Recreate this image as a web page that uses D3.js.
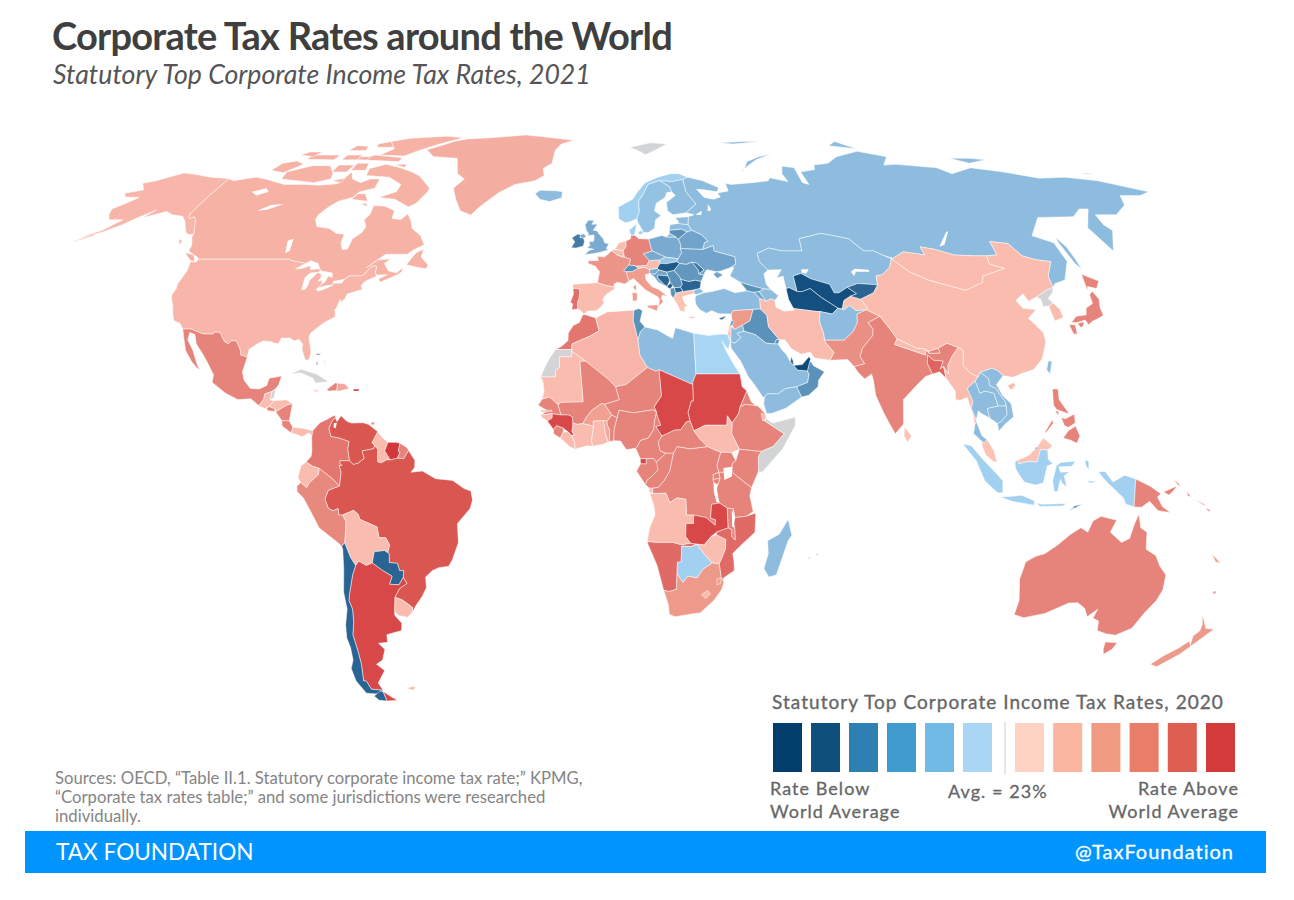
<!DOCTYPE html>
<html><head><meta charset="utf-8">
<script src="https://cdn.jsdelivr.net/npm/d3@7"></script>
<style>html,body{margin:0;background:#fff}svg{display:block}text{font-family:Lato,sans-serif}</style>
</head><body><svg id="c" width="1294" height="900"></svg>
<script>
// ---------- chart texts ----------
const titleText="Corporate Tax Rates around the World";
const subtitleText="Statutory Top Corporate Income Tax Rates, 2021";
const sourceLines=["Sources: OECD, “Table II.1. Statutory corporate income tax rate;” KPMG,","“Corporate tax rates table;” and some jurisdictions were researched","individually."];
const legendTitle="Statutory Top Corporate Income Tax Rates, 2020";
const legendBlues=["#023e6b","#0f4f7c","#2f80b2","#409bcf","#72bae6","#a8d6f3"];
const legendReds=["#ffd3c3","#fbb6a1","#f09a82","#e87d68","#dd5f4f","#d33a3a"];
// ---------- rate → colour, as seen on the map ----------
const rateStops=[0,8,10,15,19,20,22.5,24,26,28,30,32,34,35,37.5];
const rateColors=["#0c4a7a","#14507f","#2a6493","#5a92ba","#7aaad0","#8dbcde","#a7d5f4","#fcc3b5","#f6b5a8","#ee9a8b","#e6837a","#e06a65","#da5650","#d84848","#c81e28"];
const noData="#d2d4d5";
// ---------- [name, statutory rate, outline "lon lat,lon lat,..."] ----------
const northAmerica=[
["Greenland",26.5,"-73 78.2,-68 76,-58 75.5,-54.5 71,-51 69.5,-53.5 67,-51 64,-48 61,-44 59.9,-42 62,-37 65.7,-32 68,-25 69,-22 70.5,-23 72.5,-20 74,-20 78,-18 80,-13 81.5,-25 82.7,-35 83.6,-50 82.5,-60 82,-65 81,-67 80"],
["Canada",26.2,"-137.4 69.6,-135 69,-128 70,-124 69.5,-115 68,-108 68,-102 67.8,-96 68.2,-94.5 71.5,-92 69.5,-88 68.5,-85.5 69.5,-82 69.5,-81.5 67,-86 66,-87 64.5,-91 63.5,-93 62,-94.5 60,-94.5 58.8,-92.5 57,-88 56.5,-85 55.3,-82.3 55.1,-82 53,-80.5 51.3,-79 51.5,-79 54,-77 55.5,-76.7 57,-78.5 58.8,-77.5 60,-78 62.4,-74 62.2,-70 61,-69.5 59,-66.5 58.8,-65 60.2,-63 58.5,-61.5 56.5,-58 54.8,-55.8 52.5,-58.5 51.3,-60 50.2,-66.5 50.2,-69 48.5,-71 46.9,-68.5 48.8,-64.5 49.1,-66 48,-65 47,-64 46.2,-61.5 45.7,-60 47,-60 46,-61 45.3,-65.5 43.5,-66.2 44.3,-64 45.3,-67 45.2,-67.8 45.7,-68 47.3,-69.2 47.4,-70 46.7,-70.8 45.4,-71.5 45,-75 45,-76.3 44.2,-79.3 43.7,-79 42.9,-81 42.7,-83 42.1,-82.4 43,-81.7 43.5,-81.3 45,-80 44.6,-80.5 45.7,-84 46.2,-84.5 46.5,-85 47,-86 48,-88.5 48.6,-89.6 48,-92 48.3,-94.6 48.7,-95.2 49,-122.8 49,-123.5 49.5,-125 50,-127.5 51,-128 52.5,-130 54.5,-130 55,-131 56,-133.5 58.5,-135 59.5,-136 59,-137 59.5,-137.4 60.3,-137.4 65"],
["Baffin",26.2,"-62 66,-64 63,-66 62,-72 64,-78 64.5,-73 66,-73 68,-79 70,-88 70.5,-89 72.5,-84 73.7,-78 72.8,-72 71.5,-68 70.3,-62 67"],
["Victoria I.",26.2,"-118 69.5,-105 68.5,-100 69.5,-101 71,-105 73.3,-112 73.3,-119 71.5"],
["Banks I.",26.2,"-125.5 72,-120 71.3,-116 73.7,-120 74.7,-124.5 74"],
["Ellesmere",26.2,"-90 76.5,-80 76.2,-76 78,-70 80,-62 82.5,-70 83.1,-85 82.3,-92 81,-87 78.5"],
["Devon",26.2,"-96 75,-80 74.5,-80 75.7,-92 76.5"],
["Axel Heiberg",26.2,"-95 79,-88 79,-92 81,-96 80"],
["Melville",26.2,"-117 75.2,-106 75,-106 76.5,-117 76.5"],
["Prince of Wales",26.2,"-102 71.5,-96.5 71.5,-96 73.5,-102 73.5"],
["Somerset",26.2,"-95.5 72,-90 72,-91 74,-95.5 74"],
["Bathurst",26.2,"-103 75,-97 75,-97 76.5,-103 76.5"],
["Prince Patrick",26.2,"-122 76.5,-116 76,-115 77.5,-120 77.5"],
["Ellef Ringnes",26.2,"-105 78,-98 78,-99 79.3,-104 79.5"],
["Cornwallis",26.2,"-97 75,-93 75,-93 76,-97 76"],
["Bylot",26.2,"-81 73.7,-76 72.8,-76 73.7"],
["King William",26.2,"-99 69,-95 68.5,-95 69.7"],
["Coats",26.2,"-83 62.8,-80 62.2,-81 63"],
["Southampton",26.2,"-87 64,-81 63.5,-83.5 65.5,-86 65.5"],
["Vancouver",26.2,"-128.3 50.6,-125 48.7,-123.4 48.4,-125 50"],
["Haida",26.2,"-133 54,-131.8 53.2,-132 52.5,-133 53.5"],
["Newfoundland",26.2,"-59.3 47.7,-55.5 47,-53 46.7,-52.7 47.6,-55.5 49.5,-55.5 51.5,-57.5 50.5"],
["USA",25.8,"-124.7 48.4,-123 48.3,-122.8 49,-95.2 49,-94.6 48.7,-92 48.3,-89.6 48,-92 46.7,-90.5 46.7,-87.9 47.5,-87.5 46.5,-85 46.7,-84.4 46.5,-84.7 45.9,-87 45.7,-87.7 45,-88 44.6,-87.8 43,-87.6 41.8,-86.8 41.7,-86.3 42.5,-86.3 44,-85.5 45,-85 45.7,-84.7 45.8,-83.5 45.3,-83.3 44.5,-83.8 43.7,-82.6 44,-82.4 43,-83.1 42.2,-83.4 41.7,-82.5 41.4,-81 41.9,-79 42.8,-79 43.25,-76.6 43.3,-76.3 44.1,-75 45,-71.5 45,-70.8 45.4,-70 46.7,-69.2 47.4,-68 47.3,-67.8 45.7,-67 44.9,-68.5 44.3,-70 43.7,-70.7 42.7,-70 41.8,-71.4 41.4,-74 40.7,-74.1 39.7,-75 38.8,-75.5 39.4,-75.9 37.2,-76.3 37,-75.9 36.6,-75.5 35.3,-77 34.6,-78.5 33.8,-79.9 32.7,-81.3 31.5,-81.4 30.4,-80.5 28.3,-80 26.8,-80.3 25.3,-81.2 25.2,-81.8 26.2,-82.7 27.8,-82.7 28.9,-84 30.1,-85.3 29.7,-86.5 30.4,-89 30.4,-89.4 29.1,-90.5 29.2,-91.8 29.6,-93.8 29.7,-95 29.2,-97.2 27.7,-97.2 25.95,-99.1 26.4,-99.5 27.5,-100.7 29.1,-101.4 29.8,-102.7 29.7,-103.2 29,-104.5 29.6,-106.5 31.75,-108.2 31.75,-108.2 31.33,-111 31.33,-114.8 32.5,-117.1 32.5,-118.4 33.8,-120.5 34.5,-121.9 36.6,-122.5 37.8,-123.8 39.5,-124.4 40.4,-124.1 42,-124.5 43,-124 46.2"],
["Alaska",25.8,"-137.4 69.6,-137.4 65,-137.4 60.3,-137 59.5,-136 59,-135 59.5,-133.5 58.5,-131 56,-130 55,-131.5 55,-133 55.5,-135 57,-136.5 58.2,-139 59.6,-143 60,-146 60.8,-149 60,-151.8 59.2,-150 61.2,-153 59.5,-156 57.5,-160 55.5,-163 54.8,-165 54.5,-160.5 56,-157.5 58.7,-162 58.7,-164 60,-165.4 61.5,-163 63,-161 64.5,-166 64.6,-168 65.6,-163 66.5,-166.5 68.3,-163 69,-157 71.2,-152 70.8,-145 70"],
["Aleutians",25.8,"-162 55.2,-164 54.2,-166.5 53,-164 53.8,-161 54.9"],
["Mexico",30,"-117.1 32.5,-114.8 32.5,-111 31.33,-108.2 31.33,-108.2 31.75,-106.5 31.75,-104.5 29.6,-103.2 29,-102.7 29.7,-101.4 29.8,-100.7 29.1,-99.5 27.5,-99.1 26.4,-97.2 25.95,-97.8 22.5,-97 20.5,-95 18.6,-92.5 18.5,-90.7 19.3,-90.3 21,-87 21.5,-87.5 19.5,-88.2 18.5,-89.15 17.9,-91 17.3,-91 16.1,-92.2 14.6,-94.5 16.2,-98 16,-101.5 17.5,-105.5 20,-105.5 21.8,-108 25,-109.4 26.5,-112 29,-113.2 31.2,-114.8 31.7,-114.7 30,-112.5 27.5,-110.5 24.3,-109.5 23,-110.3 23.4,-112.2 25,-114.5 27.5,-115.7 30"],
["Guatemala",25,"-92.2 14.6,-91 16.1,-91 17.3,-89.15 17.9,-89.2 15.9,-88.2 15.7,-89.4 14.4,-90.5 13.9"],
["Belize",null,"-89.15 17.9,-88.2 18.5,-88.3 16.5,-89.2 15.9"],
["Honduras",25,"-89.4 14.4,-88.2 15.7,-85 15.95,-83.2 15,-84.7 14.7,-86 14,-87.5 13.1,-87.7 13.8"],
["El Salvador",30,"-90.1 13.8,-89.4 14.4,-87.7 13.8,-87.9 13.2,-89.5 13.4"],
["Nicaragua",30,"-87.5 13.1,-86 14,-84.7 14.7,-83.2 15,-83.7 11,-85.7 11.1"],
["Costa Rica",30,"-85.7 11.1,-83.7 11,-82.6 9.5,-83 8.2,-85.5 9.8"],
["Panama",25,"-83 8.2,-82.6 9.5,-80 9.3,-77.3 8.7,-77.3 7.5,-78.4 8.2,-80 7.3,-81.7 7.9"],
["Cuba",null,"-84.9 21.9,-82 23.1,-77.5 21.9,-74.2 20.2,-77.7 19.9,-78.5 21,-82 22.3"],
["Haiti",30,"-74.4 18.4,-72.3 19.9,-71.7 19.8,-71.7 18.1,-74 18"],
["Dominican Rep.",27,"-71.7 19.8,-69.8 19.7,-68.4 18.6,-71 18,-71.7 18.1"],
["Jamaica",25,"-78.3 18.4,-76.3 18.1,-77.2 17.8"],
["Puerto Rico",37.5,"-67.2 18.5,-65.6 18.4,-65.8 18,-67.2 18"],
["Bahamas",0,"-78.2 25.2,-77.7 24.4,-77.9 24"],
["Bahamas",0,"-78.9 26.7,-77.2 26.7,-77.9 26.4"],
["Bahamas",0,"-76.3 25.3,-75.6 24.3,-75.9 24.9"],
["Trinidad",30,"-61.9 10.7,-61 10.7,-61 10.1,-61.8 10.1"]];
const southAmerica=[
["Colombia",31,"-77.3 8.7,-75.5 10.6,-74 11.2,-71.7 12.4,-71.3 11.8,-72.2 11.1,-73 9.3,-72.4 7.4,-70.1 7,-67.5 6.2,-67.8 4.5,-67.3 1.7,-69.8 1.7,-69.8 1,-69.2 0.6,-70 0.6,-69.5 -1,-70 -4.2,-72 -2.4,-75.3 -0.1,-77 0.4,-78.8 1.4,-77.5 2.7,-77.3 4,-77.5 7"],
["Venezuela",34,"-71.7 12.4,-71.3 11.8,-72.2 11.1,-73 9.3,-72.4 7.4,-70.1 7,-67.5 6.2,-67.8 4.5,-67.3 1.7,-66.3 0.8,-65 1.1,-64 1.9,-63.4 2.2,-64 4,-61 4.5,-60.7 5.2,-61.4 5.9,-60 8.5,-62.5 10.2,-64 10.6,-67 10.5,-68.3 10.9,-70 12.2,-71 10.8"],
["Guyana",25,"-60 8.5,-58.5 6.9,-57.2 6,-58 4,-56.5 1.9,-57.5 1.9,-58.8 1.2,-59.8 1.4,-59.9 2.4,-59.9 4.4,-60.7 5.2,-61.4 5.9"],
["Suriname",36,"-57.2 6,-55 6,-54 5.8,-54.4 4,-54 3.6,-54.6 2.3,-56.5 1.9,-58 4"],
["French Guiana",30,"-54 5.8,-52 4.7,-51.7 4.1,-52.9 2.2,-54.6 2.3,-54 3.6,-54.4 4"],
["Brazil",34,"-51.7 4.1,-50 1.8,-50 0.2,-51 -1,-48 -0.7,-44.5 -2.5,-40 -2.9,-37 -4.8,-35.2 -5.4,-34.8 -7.5,-35.5 -9.5,-37.5 -11.5,-39 -13,-39 -17.5,-40.9 -21.5,-42 -23,-44.7 -23.3,-46.5 -24,-48.5 -25.5,-48.6 -28,-50 -30,-52.2 -32.2,-53.4 -33.7,-53.2 -32.6,-55.6 -30.9,-57.6 -30.2,-56 -28.2,-53.8 -27,-54.6 -25.6,-54.3 -24,-55.4 -24,-55.8 -22.3,-58 -22.1,-57.8 -20,-58.2 -19.8,-57.5 -18,-58.4 -16.3,-60.2 -16.3,-60.5 -13.8,-62.5 -13,-65 -12,-65.3 -10.9,-66.5 -9.9,-69.5 -11,-70.5 -11,-70.6 -9.5,-72 -10,-73.2 -9.4,-74 -7.3,-73 -5.2,-70 -4.2,-69.5 -1,-70 0.6,-69.2 0.6,-69.8 1,-69.8 1.7,-67.3 1.7,-66.3 0.8,-65 1.1,-64 1.9,-63.4 2.2,-64 4,-61 4.5,-60.7 5.2,-59.9 4.4,-59.9 2.4,-59.8 1.4,-58.8 1.2,-57.5 1.9,-56.5 1.9,-54.6 2.3,-52.9 2.2"],
["Ecuador",25,"-80.3 -3.4,-81 -2.2,-80.1 0.5,-78.8 1.4,-77 0.4,-75.3 -0.1,-75.5 -1.5,-78 -3.5,-78.7 -4.6"],
["Peru",29.5,"-80.3 -3.4,-78.7 -4.6,-78 -3.5,-75.5 -1.5,-75.3 -0.1,-72 -2.4,-70 -4.2,-73 -5.2,-74 -7.3,-73.2 -9.4,-72 -10,-70.6 -9.5,-70.5 -11,-69.5 -11,-68.7 -12.5,-69 -15,-69.4 -17,-69.5 -17.5,-70.4 -18.3,-71.4 -17.4,-76 -14,-78 -10,-79.7 -7,-81.3 -5.5,-81.3 -4.3"],
["Bolivia",25,"-69.5 -11,-66.5 -9.9,-65.3 -10.9,-65 -12,-62.5 -13,-60.5 -13.8,-60.2 -16.3,-58.4 -16.3,-57.5 -18,-58.2 -19.8,-59 -19.3,-61.8 -19.6,-62.6 -22.2,-64.3 -22.8,-66.2 -21.8,-67.2 -22.8,-68.3 -21,-69 -19,-69.5 -17.5,-69.4 -17,-69 -15,-68.7 -12.5"],
["Paraguay",10,"-58.2 -19.8,-57.8 -20,-58 -22.1,-55.8 -22.3,-55.4 -24,-54.3 -24,-54.6 -25.6,-56 -27.3,-58.6 -27.2,-57.6 -25.3,-60 -24,-62.6 -22.2,-61.8 -19.6,-59 -19.3"],
["Uruguay",25,"-58.4 -33.5,-57.6 -30.2,-55.6 -30.9,-53.2 -32.6,-53.4 -33.7,-55 -34.9,-57.5 -34.5"],
["Argentina",35,"-66.2 -21.8,-64.3 -22.8,-62.6 -22.2,-60 -24,-57.6 -25.3,-58.6 -27.2,-56 -27.3,-54.6 -25.6,-53.8 -27,-56 -28.2,-57.6 -30.2,-58.4 -33.5,-58.5 -34.5,-57 -36.3,-57.5 -38,-62 -39,-62.3 -40.8,-65 -41,-63.7 -42.5,-65.3 -45,-67.5 -46,-65.7 -47.5,-69 -50.5,-68.4 -52.3,-71.9 -52,-72.4 -50,-73.2 -50,-72 -46,-71.7 -43,-71.7 -39,-70.5 -36,-70 -33,-70.5 -31,-69.8 -29,-68.3 -25,-67.2 -22.8"],
["Chile",10,"-69.5 -17.5,-69 -19,-68.3 -21,-67.2 -22.8,-68.3 -25,-69.8 -29,-70.5 -31,-70 -33,-70.5 -36,-71.7 -39,-71.7 -43,-72 -46,-73.2 -50,-72.4 -50,-71.9 -52,-68.4 -52.3,-70.5 -53.2,-74 -53,-75.5 -50,-75.5 -47,-74 -45,-73.5 -42,-73.7 -39.8,-73 -36.7,-71.5 -33,-71.5 -29,-70.5 -23.5,-70.2 -19,-70.4 -18.3"],
["Chile",10,"-68.6 -52.6,-69.5 -52.5,-72 -53.7,-71 -54.7,-68.6 -54.9"],
["Argentina",35,"-68.6 -52.6,-68.6 -54.9,-65.2 -54.7,-66.5 -54"],
["Falklands",26,"-61 -51.8,-59 -51.4,-58 -51.5,-59 -52.2"]];
const europe=[
["UK",19,"-5.7 50.1,-3.5 50.3,-1 50.7,1.4 51.2,0.8 51.7,1.7 52.7,0.3 53,-0.1 54,-1.5 55.2,-2 55.9,-3.3 56.1,-2 57.6,-3.8 57.6,-3.1 58.6,-5 58.6,-6 57.5,-5.5 56,-4.8 55.3,-5 54.8,-3 54.9,-3 53.9,-3.2 53.3,-4.6 53.3,-4.2 52.3,-5.2 51.8,-3 51.4,-4.5 51.1"],
["N. Ireland",19,"-6.2 55.2,-5.5 54.5,-6.3 54.1,-7.5 54.3,-7.3 55"],
["Ireland",12.5,"-6.3 54.1,-6 53.3,-6.3 52.2,-8.5 51.7,-10 51.8,-9 53.2,-10 54.2,-8.3 55.1,-7.3 55,-7.5 54.3"],
["Iceland",20,"-24 65.5,-22 64,-18.5 63.4,-14.5 64.4,-14.5 66,-17 66.3,-22.5 66.4"],
["Svalbard",null,"11 79,20 80.5,27 80,21 78,17 76.6,14 78"],
["France",28.4,"2.5 51.1,4.2 50,5.8 49.5,6.4 49.5,8.2 49,7.6 47.6,6 46.3,6.8 46,7 45,7.5 43.8,6.2 43.1,4 43.5,3 43,3.2 42.4,0.7 42.7,-1.8 43.4,-1.2 46,-2.5 47.3,-4.7 48,-4.7 48.6,-1.6 48.7,-1.9 49.7,0.2 49.5,1.6 50.4"],
["Corsica",28.4,"8.6 42.4,9.4 43,9.5 42,9.2 41.4"],
["Spain",25,"-9 43,-1.8 43.4,0.7 42.7,3.2 42.4,3.2 41.9,0.7 40.6,-0.3 39.4,0.2 38.7,-0.7 37.7,-2 36.8,-4.5 36.7,-5.6 36,-6.4 36.8,-7.4 37.2,-7.4 39,-7 39.7,-6.9 41.9,-8.2 42,-8.9 42"],
["Portugal",31.5,"-8.9 42,-8.2 42,-6.9 41.9,-7 39.7,-7.4 39,-7.4 37.2,-9 37,-8.8 38.4,-9.5 38.7,-8.7 40.7"],
["Belgium",25,"2.5 51.1,3.4 51.4,5.9 51.1,6.2 50.5,5.8 49.5,4.2 50"],
["Netherlands",25,"3.4 51.4,4 52,4.8 53,7 53.4,7 52.2,6 51,5.9 51.1"],
["Luxembourg",24.9,"5.8 49.5,6.2 50.1,6.4 49.5"],
["Germany",29.9,"7 53.4,8.5 54,8.7 54.9,10 54.8,11 54,14.2 53.9,14.7 51.6,15 51,12.2 50.3,13.8 48.7,13 47.5,10 47.3,7.6 47.6,8.2 49,6.4 49.5,6.2 50.1,6.2 50.5,6 51,7 52.2"],
["Denmark",22,"8.7 54.9,8.1 56,10.6 57.7,10.3 56.3,9.8 55,10 54.8"],
["Denmark",22,"11 55.7,12.5 56,12.5 55.2,11.2 55"],
["Switzerland",14.9,"6 46.3,7.6 47.6,9.6 47.4,10.4 46.8,8.5 46,6.8 46"],
["Austria",25,"9.6 47.4,10 47.3,13 47.5,13.8 48.7,17 48.8,17 48,16 46.8,13.7 46.5,12.2 47,10.4 46.8"],
["Italy",27.8,"6.8 46,8.5 46,10.4 46.8,12.2 47,13.7 46.5,13.7 45.6,12.3 45.3,12.5 44,14 42.5,16 41.8,18.5 40.1,17 40.5,16.5 39.7,17.1 39,16 38,15.7 38,16 39.5,15.5 40.1,14 40.8,12 41.8,10.5 43,8.8 44.4,7.5 43.8,7 45"],
["Sicily",27.8,"12.4 38,15.6 38.2,15.1 36.7,12.5 37.6"],
["Sardinia",27.8,"8.2 41,9.7 41,9.6 39.2,8.4 39"],
["Poland",19,"14.2 53.9,18.5 54.8,19.8 54.4,22.8 54.4,23.5 53.9,24 52.5,23.7 51.5,24 50.6,22.6 49.1,18.8 49.5,15 51,14.7 51.6"],
["Czechia",19,"12.2 50.3,15 51,18.8 49.5,17 48.8,13.8 48.7"],
["Slovakia",21,"17 48.8,18.8 49.5,22.6 49.1,22.1 48.4,18.8 47.9,17 48"],
["Hungary",9,"16 46.8,17 48,18.8 47.9,22.1 48.4,22.9 48,21 46.3,18.8 45.9,16.5 46.4"],
["Slovenia",19,"13.7 46.5,16 46.8,16.5 46.4,15.2 45.4,13.7 45.5"],
["Croatia",18,"13.7 45.5,15.2 45.4,16.5 46.4,18.8 45.9,19 45,16 45.2,16 44.5,17.6 43,18.5 42.4,16 43.5,14.9 44.8"],
["Bosnia",10,"16 45.2,19 45,19.5 44,18.5 42.5,17.6 43,16 44.5"],
["Serbia",15,"18.8 45.9,21 46.3,22.5 44.7,22.7 44.2,23 43,22.4 42.3,20.5 42.2,20.2 42.7,19.5 43.3,19.5 44,19 45"],
["Montenegro",9,"18.5 42.5,19.5 43.3,20.2 42.7,19.3 41.9,18.5 42.4"],
["Albania",15,"19.3 42,20.5 42.2,20.9 40.9,20 39.7,19.4 40.5"],
["N. Macedonia",10,"20.5 42.2,22.4 42.3,23 41.3,20.9 40.9"],
["Greece",24,"20 39.7,20.9 40.9,23 41.3,26.3 41.7,26 40.8,23.5 40.3,22.6 40,23.2 38.5,24 38,23 37.6,23 36.5,21.7 36.8,21 38.3"],
["Crete",24,"23.5 35.5,26.3 35.3,24.8 34.9"],
["Bulgaria",10,"22.7 44.2,25 43.7,27 44,28.6 43.7,28 42,26.3 41.7,23 41.3,22.4 42.3,23 43"],
["Romania",16,"21 46.3,22.9 48,24.9 47.8,26.6 48.3,28.2 46.5,28.2 45.5,29.7 45.2,28.6 43.7,27 44,25 43.7,22.7 44.2,22.5 44.7"],
["Moldova",12,"26.6 48.3,28 48.1,30 46.4,28.2 45.5,28.2 46.5"],
["Ukraine",18,"22.1 48.4,22.6 49.1,24 50.6,23.7 51.5,24 51.6,30.6 51.4,34 52.3,34 51,40 49.6,39.7 47.8,38 47,35 46.2,33.6 46,35.4 45.3,33.5 44.4,32.5 45.4,33.6 46,30.8 46.5,30 45.8,29.7 45.2,28.2 45.5,30 46.4,28 48.1,26.6 48.3,24.9 47.8,22.9 48"],
["Belarus",18,"23.7 51.5,24 52.5,23.5 53.9,26.6 55.7,28.2 56.1,31 55,32.7 53.4,31.5 53,30.6 51.4,24 51.6"],
["Lithuania",15,"21 55.3,21 56.1,25 56.4,26.6 55.7,23.5 53.9,22.8 54.4"],
["Latvia",20,"21 56.1,21.6 57.5,24.3 57.8,27.4 57.5,28.2 56.1,26.6 55.7,25 56.4"],
["Estonia",20,"23.5 59.2,28 59.5,27.4 57.5,24.3 57.8,24.4 58.4"],
["Norway",22,"5 58.9,7 58,8.5 58.2,11 59,12 61,12 63.5,14 65.5,16 68,20 69,25 68.8,29 69.4,31 70,28 71,25 71,20 70,15 68.5,12 66,10 64,5 62,5 60"],
["Sweden",20.6,"11 59,11.2 58,12.8 55.5,14.2 55.5,16.4 56.6,17 58.7,19 59.8,17 61,18 63,21.3 64.5,22.2 65.8,24 66,23.5 67.5,20.5 69,20 69,16 68,14 65.5,12 63.5,12 61"],
["Finland",20,"24 66,23.5 67.5,20.5 69,25 68.8,29 69.4,29 66,31.5 62.8,27.5 60.5,23 60,21.4 61,21.5 63.2,25 65"]];
const asia=[
["Russia",20,"28 59.5,30 60,27.5 60.5,31.5 62.8,29 66,29 69.4,31 70,36 69,41 67.2,40 66,35 66.6,33 66.7,34.8 64.5,38 64,40.5 64.6,40 65.7,44 66.2,44 68.3,46 68,54 68.5,60 69,61 69.8,67 68.8,66.5 71,68.5 73.2,72.7 72.7,72 68.5,74 68,74 71.5,80 72.2,81 73.5,87 74,93 76,104 77.7,113 76,108 73.5,113 73.7,127 72.7,130 71,140 72.7,150 71.5,160 69.7,170 70,180 69,192 66,187 65,180 65,177 62.5,170 60,163 60,162 57.5,162.8 56,156.7 51,155.8 56.7,163 61.5,160 61.5,155 59.5,143 59.3,135.5 54.7,140.5 53,140 48.5,135.5 44,132 43.2,130.7 42.3,131.3 45,135 48.4,130.7 48.9,127.5 49.8,126 52.8,120.8 53.3,120 50,116.7 49.8,113 49.8,107 50,102 51.4,98 52,98 50,92 50.8,87.8 49.2,85 50,83 51,80 51,77 54,71 55,69 55.3,61.5 54,61 51,55 51,51 51.7,47 50.4,47 48.5,49 46.4,47.5 45.5,47.5 43,48.5 41.8,46.5 41.9,43.5 42.6,40 43.5,37.3 45,39 47,38 47,39.7 47.8,40 49.6,34 51,34 52.3,30.6 51.4,31.5 53,32.7 53.4,31 55,28.2 56.1,27.4 57.5"],
["Kaliningrad",20,"19.8 54.4,22.8 54.4,21 55.3"],
["Novaya Zemlya",20,"51.5 71.5,55.5 73.3,60 75,68 76.9,62 76,56 74.5,53 72"],
["Severnaya Zemlya",20,"95 79.5,100 79,105 78.5,100 81"],
["New Siberian Is.",20,"137 75.5,145 75.5,150 75,142 74"],
["Franz Josef",20,"50 80.5,60 81,68 81,55 80"],
["Wrangel",20,"178.5 71.2,183 71,180 70.8"],
["Sakhalin",20,"142.5 54.3,143.3 52,143 49,142.7 46.6,141.9 48,142 53"],
["Kazakhstan",20,"47 50.4,51 51.7,55 51,61 51,61.5 54,69 55.3,71 55,77 54,80 51,83 51,85 50,87.3 49.1,85.5 47,82.5 45.3,80.5 45,80 42.9,74.3 43.2,70.9 42.3,68 41,66.6 41,66 43,61 44.3,58.5 45.6,56 45,56 41.3,54 42.2,53 42,53 45,51 44.5,53 46.5,49 46.4,47 48.5"],
["Uzbekistan",7.5,"56 45,58.5 45.6,61 44.3,66 43,66.6 41,68 41,70.9 42.3,73 40.8,71 40.2,68.8 39.2,67.7 37.2,66.5 37.4,62.5 39.9,60 42,57.5 41.3,56 41.3"],
["Turkmenistan",8,"53 42,54 42.2,56 41.3,57.5 41.3,60 42,62.5 39.9,66.5 37.4,64.5 36,61.2 36.6,60.3 36.6,53.9 37.3,53 39.5"],
["Tajikistan",24,"67.7 37.2,68.8 39.2,71 40.2,73.7 39.5,75 37.4,74.5 37,71.5 36.8,70 38,68.2 37"],
["Kyrgyzstan",10,"70.9 42.3,74.3 43.2,80 42.9,78 41,73.7 39.5,71 40.2,73 40.8"],
["Afghanistan",20,"61.2 36.6,64.5 36,66.5 37.4,68.2 37,70 38,71.5 36.8,74.5 37,71.5 36,71 34,69.3 31.9,66.3 29.9,60.9 29.9,61 31.5,60.5 33.7,60.5 34.5"],
["Pakistan",29,"60.9 29.9,66.3 29.9,69.3 31.9,71 34,71.5 36,74.5 37,77.8 35.5,74 34,75 32.4,74.5 31,71 28,70 26,71 24.4,68 23.7,66.5 25.4,61.6 25.2,63 27,61 29.5"],
["India",30,"77.8 35.5,79.5 32.8,81 30.2,80 28.9,88 26.4,88.1 27.9,89 26.8,92 26.9,91.7 28,94.5 29.2,97.3 28.2,95 26,93.5 24,93.3 22,92.3 23.7,91.3 23.2,92.4 25,89.8 25.2,88.5 26.4,88 24.5,89 22,87 21.4,84.5 19.5,80.3 16,80 13,79.8 10.3,77.5 8,76 10.5,74.7 13,73 17,72.8 20.5,72.5 22,70.5 20.8,69 22.3,68 23.7,71 24.4,70 26,71 28,74.5 31,75 32.4,74 34"],
["Bangladesh",32.5,"88 24.5,88.5 26.4,89.8 25.2,92.4 25,91.3 23.2,92.3 23.7,92.5 21,91 22.5,89 22"],
["Nepal",25,"80 28.9,81 30.2,86 28,88.1 27.9,88 26.4"],
["Bhutan",30,"89 27.3,91.7 28,92 26.9,89 26.8"],
["Sri Lanka",24,"80 9.7,81.8 7.4,80.6 6,79.8 7.5"],
["China",25,"73.7 39.5,78 41,80 42.9,80.5 45,82.5 45.3,85.5 47,87.3 49.1,90.9 46,95.5 44,101 42.6,105 41.6,111 43.5,112 45,119.8 46.8,116 47.8,116.7 49.8,120 50,120.8 53.3,126 52.8,127.5 49.8,130.7 48.9,135 48.4,131.3 45,130.7 42.3,128 41.5,124.3 40,121.5 39,121 40.8,118 39.2,119 37.4,122.5 37,119.3 35,122 31.7,121.8 29.5,119.5 25.5,116.5 23,113.5 22.2,110.5 21.2,108 21.6,106.7 22.8,105.3 23.3,102 22.4,101.2 21.3,99.2 22.2,97.6 24,98.5 27.5,97.3 28.2,94.5 29.2,91.7 28,89 27.3,88.1 27.9,86 28,81 30.2,79.5 32.8,77.8 35.5,74.5 37,75 37.4"],
["Mongolia",25,"87.8 49.2,92 50.8,98 50,98 52,102 51.4,107 50,113 49.8,116.7 49.8,116 47.8,119.8 46.8,112 45,111 43.5,105 41.6,101 42.6,95.5 44,90.9 46,87.3 49.1"],
["Hainan",25,"108.7 19.3,110.6 20,110.9 19.3,109.6 18.2"],
["Taiwan",20,"120.1 23,121 25,122 25,120.8 22"],
["North Korea",null,"124.3 40,128 41.5,130.7 42.3,129.7 41,127.5 39.7,128.3 38.6,126.7 37.9,125 37.8,125.3 39.5"],
["South Korea",25,"126.7 37.9,128.3 38.6,129.4 37,129.2 35.2,126.5 34.4,126.5 36.7"],
["Honshu",30,"130.9 34,133 35.5,136 35.8,137 37.4,139.5 38.5,140 40.5,141.4 41.4,142 39.5,141 37.5,140.8 35.7,139 35,136.9 34.3,135.5 33.5,135 34.6,132.5 34"],
["Hokkaido",30,"140.2 41.5,141.5 45.4,145.3 43.8,143.2 42,141 42.5"],
["Kyushu",30,"130 33.5,131.7 33.5,131.3 31.4,130.3 31.3"],
["Shikoku",30,"132.5 33.8,134.5 34.2,134 33.4,133 32.8"],
["Myanmar",25,"92.5 21,92.3 23.7,93.3 22,93.5 24,95 26,97.3 28.2,98.5 27.5,97.6 24,99.2 22.2,101.2 21.3,100.2 20.3,97.8 18.6,98.9 15.5,98.2 14,99.4 11,98.7 10,98.6 12,97.5 16.5,95.4 15.8,94.3 16,94.5 18"],
["Thailand",20,"97.8 18.6,100.2 20.3,100.5 19.5,101 17.5,102.5 18,104.8 17.5,105.5 14.5,102.5 13.9,102.9 11.7,100.9 12.7,100 13.4,99.2 11,99.8 9.3,100.5 7.5,101.7 6.7,101 5.7,98.3 8,98.7 10,99.4 11,98.2 14,98.9 15.5"],
["Laos",20,"100.2 20.3,101.2 21.3,102 22.4,104 20.9,103.9 19.4,105.5 18.6,107.5 15.5,107.6 14.5,105.5 14.5,104.8 17.5,102.5 18,101 17.5,100.5 19.5"],
["Vietnam",20,"102 22.4,105.3 23.3,106.7 22.8,108 21.6,105.8 19.5,107 17,109 15,109.3 12,107 10.4,105 8.6,104.8 10.4,106 11,107.6 12.5,107.6 14.5,107.5 15.5,105.5 18.6,103.9 19.4,104 20.9"],
["Cambodia",20,"102.5 13.9,105.5 14.5,107.6 14.5,107.6 12.5,106 11,104.8 10.4,102.9 11.7"],
["Malaysia",24,"100.3 6.3,101 5.7,101.7 6.7,102.1 6.2,103.5 4,104.2 1.4,103.4 1.4,101.3 3,100.4 5"],
["Malaysia",24,"109.6 1.9,111.3 2.4,113 3.2,115 5,116.7 7,119 5.2,117.7 4.2,115.8 4.3,114.8 1.4,112.5 1.5,110 1"],
["Brunei",18.5,"114.2 4.6,115.2 5,115 4.3"],
["Kalimantan",22,"109 1.5,109.6 1.9,110 1,112.5 1.5,114.8 1.4,115.8 4.3,117.7 4.2,117.8 2,119 1,117.5 0.5,116.5 -3.5,114.5 -4,111.5 -3.3,110 -1.5,109 0"],
["Sumatra",22,"95.3 5.6,97.5 5.2,100.5 2,103.7 -1,105.8 -3,105.9 -5.8,104.5 -5.8,101 -3,98.7 1.7"],
["Java",22,"105.2 -6.8,108.5 -6.6,111 -6.4,114.5 -7.7,114.4 -8.7,108.5 -7.8"],
["Sulawesi",22,"119.5 -5.5,119 -3,119.9 0.5,121 1.3,125 1.6,124 0.4,120.5 0.3,121 -1,123.4 -0.9,122 -1.8,122.8 -4.5,121.5 -3.5,121 -2.7,120.4 -5.5"],
["Halmahera",22,"127.5 2,128.5 1.5,128.5 -0.5,127.7 0.5"],
["Seram",22,"128 -3,131 -3.2,129 -3.5"],
["Lesser Sunda",22,"115 -8.2,116.5 -8.5,119 -8.4,123 -8.3,122 -8.9,116 -9"],
["West Timor",22,"123.5 -10.3,124.9 -9,125 -9.5"],
["Timor-Leste",10,"124.9 -9,127.2 -8.4,125 -9.5"],
["Papua",22,"141 -2.6,138 -1.7,135 -3.3,132.8 -0.8,131 -0.9,132.8 -2.8,134 -3.8,138 -7,138.7 -8.4,141 -9.1"],
["Philippines",30,"120.4 16,120.7 18.5,122.2 18.5,122 16,124 13,123.9 12.7,121 13.7,120.3 14.7"],
["Philippines",30,"122 7,123.5 8.7,125.5 9.8,126.5 7.5,125.5 5.8,124 6.5"],
["Philippines",30,"122 11.8,123 11.5,125.6 12.6,125.5 10.5,123.5 9.5,122.5 10"],
["Philippines",30,"117.3 8.4,119.5 11.3,119.7 10.5,117.5 8.2"],
["Philippines",30,"120.5 13.4,121.5 13.2,121.2 12.3"],
["Turkey",20,"26.2 39.5,26.5 40.3,29 41,31.4 41.3,35 42,38 41,41.5 41.5,43.5 41.1,44.8 39.7,44.5 37.2,42.4 37.1,36.7 36.8,36 36,32.5 36.1,30.6 36.8,29 36.2,27.3 37,26.3 38.3"],
["Turkey",20,"26.3 41.7,28 42,29 41.2,26.8 40.6,26 40.8"],
["Cyprus",12.5,"32.3 35,34.5 35.6,33.8 34.9,33 34.6"],
["Georgia",15,"40 43.5,43.5 42.6,46.5 41.9,45 41.3,43.5 41.1,41.5 41.5"],
["Armenia",18,"43.5 41.1,45 41.3,46.5 39,44.8 39.7"],
["Azerbaijan",20,"45 41.3,46.5 41.9,48.5 41.8,50.3 40.3,49 39.2,48 39.6,46.5 39"],
["Syria",28,"36 36,36.7 36.8,42.4 37.1,41 34.4,38.8 33.4,36.4 32.4,35.9 33.4,36 34.7"],
["Lebanon",17,"35.1 33.1,35.9 34.6,36.6 34.2,35.6 33.2"],
["Israel",24,"34.3 31.3,35.1 33.1,35.6 33.2,35 29.5"],
["Jordan",20,"35 29.5,35.6 33.2,36.4 32.4,38.8 33.4,39 32,37 31.5,38 30.5,36.1 29.2"],
["Iraq",15,"38.8 33.4,41 34.4,42.4 37.1,44.5 37.2,46 35.7,46 33,48.5 30,47.7 30.1,47 29,44.7 29.2,42 31.2,39 32"],
["Kuwait",15,"47.7 30.1,48.5 30,48 29,47 29"],
["Saudi Arabia",20,"34.9 29.5,36.1 29.2,38 30.5,37 31.5,39 32,42 31.2,44.7 29.2,47 29,48 29,48.8 27.7,50 26.5,50.8 24.8,51.6 24,52.6 22.9,55.2 22.7,55.6 22,55 20,52 19,49 18.6,46.7 17.3,44 17.4,43.2 16.7,42.8 16.4,41 19,39 21.5,37.3 25,35 28"],
["Yemen",20,"43.2 16.7,44 17.4,46.7 17.3,49 18.6,52 19,53.1 16.6,48.7 14,45 12.8,43.5 12.7,42.8 15"],
["Oman",15,"52 19,55 20,55.6 22,55.2 22.7,56 24.7,56.4 24.9,57 23.9,59.8 22.5,58 20.5,57.7 19,55 17,53.1 16.6"],
["UAE",0,"51.6 24,54 24.2,56 26,56.4 25.5,56 24.7,55.2 22.7,52.6 22.9"],
["Qatar",10,"50.8 24.8,51.2 26.1,51.6 25,51.6 24"],
["Iran",25,"44.8 39.7,46.5 39,48 39.6,49 39.2,49 37.6,51 36.7,54 36.9,53.9 37.3,60.3 36.6,61.2 36.6,60.5 34.5,60.5 33.7,61 31.5,60.9 29.9,61 29.5,63 27,61.6 25.2,57.5 25.7,56.5 27.1,54 26.6,51.5 27.9,50 30,48.5 30,46 33,46 35.7,44.5 37.2"]];
const africa=[
["Morocco",31,"-5.9 35.8,-5.3 35.9,-2.2 35.1,-1.7 33.4,-1.2 32.1,-3.6 30.9,-8.7 29,-8.7 27.7,-13.2 27.7,-11.5 28.5,-9.8 29.8,-9.8 31.5,-8.5 33.3,-6.8 34"],
["W. Sahara",null,"-13.2 27.7,-8.7 27.7,-8.7 26,-12 26,-12 23.5,-13 22.8,-13 21.3,-17 21.3,-16 23.5,-14.5 26"],
["Algeria",26,"-2.2 35.1,1 36.5,8.6 36.9,8.3 34.6,9 32,9.5 30,9.9 26.5,11.9 23.5,6 19.5,3.2 19,1.2 20.8,-4.9 25,-8.7 27.3,-8.7 29,-3.6 30.9,-1.2 32.1,-1.7 33.4"],
["Tunisia",15,"8.6 36.9,10 37.3,11 36.8,10.2 34.3,11.5 33,10.2 31.8,9.5 30,9 32,8.3 34.6"],
["Libya",20,"9.5 30,10.2 31.8,11.5 33,15 32.3,19 30.3,20 32.8,25 31.5,25 22,24 20,24 19.5,15 23,14.2 22.6,11.9 23.5,9.9 26.5"],
["Egypt",22.5,"25 31.5,29 31,32.3 31.3,34.3 31.3,34.9 29.5,34.2 27.8,33.2 28.8,32.6 29.8,33.5 27.5,35.5 24,36.9 22,25 22"],
["Sudan",35,"24 20,25 22,36.9 22,37.3 19,38.5 18,36.5 14.3,36 12.7,34.2 10.5,33 12.2,32.8 10,27 10,24 8.7,23 11,22.5 13,23.5 15.7,24 15.7"],
["Eritrea",30,"36.5 14.3,38.5 18,39.5 15.5,43.1 12.7,41.2 14.5,37.9 14.9"],
["Ethiopia",30,"36.5 14.3,37.9 14.9,41.2 14.5,43.1 12.7,42.4 11.5,42.9 11,48 8,44.9 5,41.9 3.9,41 3.9,36 4.4,34 8,34.2 10.5,36 12.7"],
["Djibouti",25,"42 12.8,43.3 12.5,43.3 11.5,42.4 11"],
["Somalia",null,"42.9 11,43.3 11.5,45 10.5,51.1 11.9,51 10,47.5 4.5,42 -1,41 -0.8,41 2.8,41.9 3.9,44.9 5,48 8"],
["South Sudan",25,"24 8.7,27 10,32.8 10,33 12.2,34.2 10.5,34 8,36 4.4,33.9 3.6,31 3.7,29 4.4,27.5 5,25.3 7"],
["Kenya",30,"36 4.4,41 3.9,41.9 3.9,41 2.8,41 -0.8,39.2 -4.6,37.7 -3.6,34 -1,34 1,35 1.7"],
["Uganda",30,"31 3.7,33.9 3.6,35 1.7,34 1,34 -1,30.5 -1,30 0.6"],
["Tanzania",30,"30.5 -1,34 -1,37.7 -3.6,39.2 -4.6,38.8 -6.5,39.8 -10.2,38 -11.3,35 -11.6,34.5 -9.5,32.9 -9.4,30.8 -8.2,29.5 -6,30.5 -3.4,30.8 -2.4"],
["Rwanda",30,"29 -1.5,30.5 -1,30.8 -2.4,29 -2.7"],
["Burundi",30,"29 -2.7,30.8 -2.4,30.5 -3.4,29.4 -4.4"],
["DR Congo",30,"12.3 -6,13 -5.9,13 -4.7,14.5 -4.5,16 -3,17.5 -0.7,18.5 3.5,19.5 5,23 4.5,27.5 5,29 4.4,31 3.7,30 0.6,30.5 -1,29 -1.5,29 -2.7,29.4 -4.4,29.5 -6,30.8 -8.2,28.7 -8.5,28.5 -11.7,29.8 -12.1,29.8 -13.4,27.3 -11.6,24 -11,22 -11,22 -9.7,21.8 -7.3,19.5 -7,17.6 -8.1,16.5 -5.9"],
["Congo",30,"11.1 -3.9,12.5 -5,13 -4.7,14.5 -4.5,16 -3,17.5 -0.7,18.5 3.5,16.5 3.5,14 1.4,13.3 2.2,14.4 -0.5,12.7 -2,11.5 -2.8"],
["Gabon",30,"9.3 -1.5,8.7 -0.7,9.8 1,11.3 1,11.3 2.2,13.3 2.2,14 1.4,14.4 -0.5,12.7 -2,11.5 -2.8,11.1 -3.9"],
["Eq. Guinea",35,"9.8 1,9.7 2.2,11.3 2.2,11.3 1"],
["Cameroon",30,"8.5 4.6,9.7 2.2,11.3 2.2,13.3 2.2,14 1.4,16.5 3.5,15 4,14.5 6,15.5 7.5,13.9 9.7,15.2 10,14.4 12,14.1 13.1,13.5 10.9,13.3 9,11.8 7,9.8 6.5,8.9 5"],
["CAR",30,"14.5 6,15 4,16.5 3.5,18.5 3.5,19.5 5,23 4.5,27.5 5,25.3 7,24 8.7,23 11,22 10.8,20.5 9,18.9 8.9,15.5 7.5"],
["Chad",35,"14.1 13.1,13.5 14.3,15.5 16.9,15 23,24 19.5,24 15.7,23.5 15.7,22.5 13,23 11,22 10.8,20.5 9,18.9 8.9,15.5 7.5,13.9 9.7,15.2 10,14.4 12"],
["Niger",30,"3.6 11.7,2.2 12.4,0.2 14.9,4.2 16,3.2 19,6 19.5,11.9 23.5,14.2 22.6,15 23,15.5 16.9,13.5 14.3,14.1 13.1,13.1 13.6,8 12.9,4.1 13.5"],
["Mali",30,"-12.2 14.8,-11.4 15.4,-5.5 15.5,-6.5 25,-4.9 25,1.2 20.8,3.2 19,4.2 16,0.2 14.9,-0.5 15.1,-2 14.2,-3 13.6,-4.5 12,-5.5 10.4,-7 10.2,-8.2 10.5,-8.3 11.9,-9.3 12.4,-11.4 12.4"],
["Mauritania",25,"-17 21.3,-13 21.3,-13 22.8,-12 23.5,-12 26,-8.7 26,-8.7 27.3,-4.9 25,-6.5 25,-5.5 15.5,-11.4 15.4,-12.2 14.8,-14.5 16.6,-16.5 16.1,-16 18,-16.3 20"],
["Senegal",30,"-16.5 16.1,-14.5 16.6,-12.2 14.8,-11.4 12.4,-13.7 12.7,-16.8 12.4,-15 13.4,-17.5 14.7"],
["Gambia",27,"-16.8 13.5,-13.8 13.5,-13.8 13.2,-16.7 13.1"],
["Guinea-Bissau",25,"-16.8 12.4,-13.7 12.7,-13.7 11.7,-15 11,-16.4 11.8"],
["Guinea",35,"-13.7 12.7,-11.4 12.4,-9.3 12.4,-8.3 11.9,-8.2 10.5,-7.9 10.2,-8.4 8.5,-7.7 7.6,-8.5 7.6,-9.5 8.5,-10.7 9.3,-12.5 9.9,-13.3 9,-15 11,-13.7 11.7"],
["Sierra Leone",30,"-13.3 9,-12.5 9.9,-10.7 9.3,-10.7 8.4,-11.5 7,-13.3 8"],
["Liberia",25,"-11.5 7,-10.7 8.4,-9.5 8.5,-8.5 7.6,-7.6 5.9,-7.6 4.4,-9 5"],
["Ivory Coast",25,"-7.6 4.4,-7.6 5.9,-8.5 7.6,-7.7 7.6,-8.4 8.5,-8.2 10.5,-7 10.2,-5.5 10.4,-3 9.9,-2.7 9.5,-3.2 6.5,-2.9 5.1,-4.5 5.2"],
["Ghana",25,"-2.9 5.1,-3.2 6.5,-2.7 9.5,-2.8 11,0 11.1,0.5 8,1.2 6.1,0 5.6"],
["Togo",27,"0 11.1,0.9 11,1 10,1.6 9,1.6 6.2,1.2 6.1,0.5 8"],
["Benin",30,"0.9 11,2.2 12.4,3.6 11.7,2.8 9,2.7 6.4,1.6 6.2,1.6 9,1 10"],
["Burkina Faso",27.5,"-5.5 10.4,-4.5 12,-3 13.6,-2 14.2,-0.5 15.1,0.2 14.9,2.2 12.4,0.9 11,0 11.1,-2.8 11,-2.7 9.5,-3 9.9"],
["Nigeria",30,"2.7 6.4,2.8 9,3.6 11.7,4.1 13.5,8 12.9,13.1 13.6,14.1 13.1,13.5 10.9,13.3 9,11.8 7,9.8 6.5,8.9 5,8.5 4.6,6 4.3,4.5 6.3"],
["Angola",25,"11.7 -17.2,14 -17.4,18.5 -17.4,21 -18,23.4 -17.6,22 -16,22 -13,24 -13,24 -11,22 -11,22 -9.7,21.8 -7.3,19.5 -7,17.6 -8.1,16.5 -5.9,12.3 -6,13.4 -9,13.7 -11,12.5 -13.5,12 -15.5"],
["Cabinda",25,"12 -4.7,13 -4.7,12.8 -5.8,12.2 -5.8"],
["Namibia",32,"11.7 -17.2,14 -17.4,18.5 -17.4,21 -18,23.4 -17.6,25 -17.8,23.5 -18.4,21 -18.3,21 -22,20 -22,20 -28.4,18 -28.9,16.5 -28.6,14.5 -22.8,12 -18"],
["Botswana",22,"20 -22,21 -22,21 -18.3,23.5 -18.4,25 -17.8,27 -20,29.4 -22.2,27 -23.7,25.5 -25.7,23 -25.3,21.7 -26.8,20 -24.8"],
["Zambia",35,"22 -13,24 -13,24 -11,27.3 -11.6,29.8 -13.4,29.8 -12.1,28.5 -11.7,28.7 -8.5,30.8 -8.2,32.9 -9.4,33 -11,33.3 -14,30.2 -15,28.8 -16,27 -18,25 -17.8,23.4 -17.6,22 -16"],
["Zimbabwe",24.7,"25 -17.8,27 -18,28.8 -16,30.2 -15.6,32.8 -16.7,32.8 -19,32 -21,31.3 -22.4,29.4 -22.2,27 -20"],
["Mozambique",32,"32.9 -26.8,32.6 -25.8,35.5 -24,35.3 -22,34.8 -20,37 -18,40.5 -15,40.5 -10.5,38 -11.3,35 -11.6,34.6 -13,35 -14,35.3 -16.8,34.3 -16,34.3 -14.4,33.3 -14,30.2 -15,30.2 -15.6,32.8 -16.7,32.8 -19,32 -21,31.3 -22.4,32 -25.5"],
["Malawi",30,"33 -11,32.9 -9.4,34.5 -9.5,34.6 -13,35 -14,35.3 -16.8,34.3 -16,34.3 -14.4,33.3 -14"],
["South Africa",28,"16.5 -28.6,18 -28.9,20 -28.4,20 -24.8,21.7 -26.8,23 -25.3,25.5 -25.7,27 -23.7,29.4 -22.2,31.3 -22.4,32 -25.5,32.9 -26.8,32.4 -28.5,30.5 -31,27 -33.9,25.6 -34,20 -34.8,18.4 -34.2,18 -32"],
["Eswatini",27.5,"31 -25.9,32 -25.7,32 -27,31 -27.3"],
["Lesotho",25,"27 -29.6,28.6 -28.6,29.4 -29.5,28.2 -30.6"],
["Madagascar",20,"49.2 -12,50.4 -15.7,49.5 -17,47 -25,45 -25.5,43.5 -23.5,44.4 -20,44 -17,47 -15.5"],
["Mauritius",15,"57.3 -20.1,57.8 -20.1,57.6 -20.5"],
["Reunion",28,"55.2 -20.9,55.8 -21,55.5 -21.4"]];
const oceania=[
["Australia",30,"114.2 -22,113.5 -26,115 -31,115 -34.3,118 -35,123.5 -34,129 -31.6,131.5 -31.5,134 -32.8,135.7 -34.8,137.8 -33,137.5 -35.1,139.5 -35.8,140.5 -38,143.5 -38.8,146.4 -39.1,150 -37.5,151.3 -33.8,153 -31,153.6 -28.5,153 -25,150.8 -23,149 -20.5,146 -19,145.3 -15,143.5 -14,142.5 -10.8,141.7 -13,141 -16.5,139 -17.4,135.5 -15,136.8 -12.2,132.5 -11.3,130.5 -12.4,129.5 -15,127.5 -14,125 -15.5,122 -18,119 -20,116.5 -20.7"],
["Tasmania",30,"144.7 -40.7,148.3 -40.9,148 -42.5,146.5 -43.6,145.5 -42.5"],
["New Zealand",28,"167.7 -34.4,169.5 -36,171 -37.5,173.5 -37.7,172 -39.5,170.3 -41.6,169.8 -41.3,168.8 -39.3,169.8 -38,169.3 -36.5"],
["New Zealand",28,"168.7 -40.5,170.3 -41.7,168.8 -43.7,167 -45,165 -46.6,162.5 -46,164.4 -44,167.3 -42"],
["PNG",30,"141 -2.6,145 -4.3,147.8 -6,147 -6.8,148.5 -9,150.8 -10.4,147.5 -10,145 -7.8,143 -9.2,141 -9.1"],
["New Britain",30,"148.5 -5.6,152 -4.2,151 -5.5,150 -6.3"],
["New Ireland",30,"150.8 -2.6,152.8 -4.5,152.5 -3.7"],
["Bougainville",30,"154.7 -5.4,155.9 -6.8,155 -6.5"],
["Solomon Is.",30,"157 -7.3,160 -9,159.5 -8.4"],
["Solomon Is.",30,"160 -9.5,161.5 -10.4,161 -9.6"],
["Vanuatu",28,"167 -15.5,167.5 -16.5,167.2 -16"],
["New Caledonia",28,"164 -20,167 -22.3,165.5 -21.9"],
["Norfolk I.",30,"167.7 -28.8,168.4 -28.8,168.4 -29.4,167.7 -29.4"]];
const lakes=["-124 66,-120 67,-118 66,-121 65","-116 61,-113 62.5,-109 62.8,-113 61.3","-99 53.5,-97.5 54,-96.5 51,-97.5 50.5","-71.8 10.5,-71 10.5,-71.2 9.3,-71.8 9.5","31.7 0,34 0.3,34 -2,32 -2.8","29.2 -3.4,29.8 -3.6,30.7 -8,30 -8,29.2 -5.5","34.1 -9.7,34.9 -11.5,34.9 -14,34.3 -13.6","59 46.6,61.2 46.6,60 45.5,58.8 45.8","73.5 46,75 46.7,79 46.5,79 46,75 46,74 45","30.5 60,32.8 61,32.5 60,31 59.9","34.8 61,35.5 62.8,36.2 61.5,35.5 60.9","104 52,106 52.5,110 55.8,109.3 55.7"];

// ---------- Robinson projection through d3 scales ----------
const robLat=[0,5,10,15,20,25,30,35,40,45,50,55,60,65,70,75,80,85,90];
const robLen=[1,.9986,.9954,.99,.9822,.973,.96,.9427,.9216,.8962,.8679,.835,.7986,.7597,.7186,.6732,.6213,.5722,.5322];
const robDfe=[0,.062,.124,.186,.248,.31,.372,.434,.4958,.5571,.6176,.6769,.7346,.7903,.8435,.8936,.9394,.9761,1];
const plen=d3.scaleLinear().domain(robLat).range(robLen);
const pdfe=d3.scaleLinear().domain(robLat).range(robDfe);
const mapX=d3.scaleLinear().domain([0,1]).range([603.6,603.6+255*0.8487]);
const mapY=d3.scaleLinear().domain([0,1]).range([468,468-255*1.3523]);
function project(lon,lat){const a=Math.abs(lat);return [mapX(lon*Math.PI/180*plen(a)),mapY(Math.sign(lat)*pdfe(a))];}
const path=d3.geoPath(d3.geoTransform({point(x,y){const p=project(x,y);this.stream.point(p[0],p[1]);}}));
function ring(s){const r=s.split(",").map(t=>t.trim().split(" ").map(Number));r.push(r[0]);return {type:"Polygon",coordinates:[r]};}

const color=d3.scaleLinear().domain(rateStops).range(rateColors).clamp(true);
const svg=d3.select("#c");
const world=[...northAmerica,...southAmerica,...europe,...asia,...africa,...oceania];
svg.append("g").selectAll("path").data(world).join("path")
  .attr("d",d=>path(ring(d[2])))
  .attr("fill",d=>d[1]===null?noData:color(d[1]))
  .attr("stroke","#fff").attr("stroke-opacity",.7).attr("stroke-width",.7).attr("stroke-linejoin","round");
svg.append("g").selectAll("path").data(lakes).join("path").attr("d",d=>path(ring(d))).attr("fill","#fff");

// ---------- header ----------
svg.append("text").text(titleText).attr("x",52).attr("y",50).attr("font-size",38).attr("font-weight",700).attr("letter-spacing",-.77).attr("fill","#3f3f3f");
svg.append("text").text(subtitleText).attr("x",53).attr("y",84).attr("font-size",26.7).attr("font-style","italic").attr("fill","#555");
// ---------- sources ----------
svg.append("g").selectAll("text").data(sourceLines).join("text").text(d=>d).attr("x",55)
  .attr("y",(d,i)=>784+i*19).attr("font-size",16.7).attr("fill","#858585");
// ---------- legend ----------
const L={fill:"#666",size:18};
svg.append("text").text(legendTitle).attr("x",772).attr("y",709).attr("font-size",19).attr("letter-spacing",1.05).attr("stroke","#666").attr("stroke-width",.35).attr("fill",L.fill);
const lx1=d3.scaleLinear().domain([0,5]).range([773,963]);
const lx2=d3.scaleLinear().domain([0,5]).range([1015,1206]);
svg.append("g").selectAll("rect").data(legendBlues).join("rect").attr("x",(d,i)=>lx1(i)).attr("y",723).attr("width",29).attr("height",49).attr("fill",d=>d);
svg.append("g").selectAll("rect").data(legendReds).join("rect").attr("x",(d,i)=>lx2(i)).attr("y",723).attr("width",29).attr("height",49).attr("fill",d=>d);
svg.append("line").attr("x1",1005).attr("x2",1005).attr("y1",722).attr("y2",774).attr("stroke","#d5d5d5").attr("stroke-width",1.2);
const legendNotes=[["Rate Below",770,795,"start"],["World Average",770,818,"start"],["Avg. = 23%",948,798,"start"],["Rate Above",1239,795,"end"],["World Average",1239,818,"end"]];
svg.append("g").selectAll("text").data(legendNotes).join("text").text(d=>d[0]).attr("x",d=>d[1]).attr("y",d=>d[2]).attr("text-anchor",d=>d[3])
  .attr("font-size",L.size).attr("letter-spacing",1.05).attr("stroke","#666").attr("stroke-width",.3).attr("fill",L.fill);
// ---------- footer ----------
svg.append("rect").attr("x",25).attr("y",831).attr("width",1241).attr("height",42).attr("fill","#0094ff");
svg.append("text").text("TAX FOUNDATION").attr("x",56).attr("y",860).attr("font-size",22.6).attr("fill","#fff");
svg.append("text").text("@TaxFoundation").attr("x",1234).attr("y",859).attr("text-anchor","end").attr("font-size",20).attr("letter-spacing",1).attr("stroke","#fff").attr("stroke-width",.3).attr("fill","#fff");
</script></body></html>
